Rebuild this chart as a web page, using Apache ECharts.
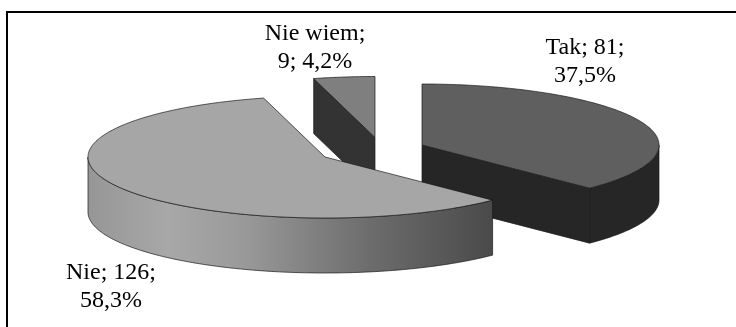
<!DOCTYPE html>
<html>
<head>
<meta charset="utf-8">
<style>html,body{margin:0;padding:0;background:#fff}#chart{width:736px;height:327px}</style>
<script src="https://cdn.jsdelivr.net/npm/echarts@6/dist/echarts.min.js"></script>
</head>
<body>
<div id="chart"></div>
<script>
// Survey answers, in clockwise order starting from twelve o'clock
const categories = ['Tak', 'Nie', 'Nie wiem'];
const answerCounts = [81, 126, 9];
const percentLabels = ['37,5%', '58,3%', '4,2%'];
// How many label parts stay on the first line of each label
const firstLineParts = [2, 2, 1];

// Pie projection
const RX = 237, RY = 61, DEPTH = 55;
// Centre of each exploded slice
const centres = [[422, 145], [325, 157], [375, 137.5]];
const labelAnchors = [[585, 62], [111, 287], [315, 48]];
const topColors = ['#5f5f5f', '#a6a6a6', '#7f7f7f'];
const wallColors = ['#262626', null, '#333333'];
const edge = { stroke: '#1a1a1a', lineWidth: 0.7 };
const FONT = '"Liberation Serif", "Times New Roman", serif';
// Slices further back are painted first
const paintOrder = [2, 0, 1];

const total = answerCounts.reduce((a, b) => a + b, 0);
const angles = [];
answerCounts.reduce((acc, v, i) => {
  angles[i] = [acc, acc + v / total * Math.PI * 2];
  return angles[i][1];
}, 0);

function rim(c, a, dy) {
  return [c[0] + RX * Math.sin(a), c[1] - RY * Math.cos(a) + (dy || 0)];
}
function arc(c, a0, a1, dy) {
  const n = Math.max(2, Math.ceil((a1 - a0) * 60));
  const pts = [];
  for (let k = 0; k <= n; k++) pts.push(rim(c, a0 + (a1 - a0) * k / n, dy));
  return pts;
}

function renderSlice(params, api) {
  const i = api.value(0);
  const c = centres[i];
  const [a0, a1] = angles[i];
  const children = [];
  const poly = (points, fill) => children.push({
    type: 'polygon',
    shape: { points },
    style: Object.assign({ fill, lineJoin: 'round' }, edge)
  });

  // Radial cut faces turned toward the viewer
  if (Math.cos(a1) < 0 && a1 < Math.PI) {
    const e = rim(c, a1);
    poly([c, e, [e[0], e[1] + DEPTH], [c[0], c[1] + DEPTH]], wallColors[i]);
  }
  if (Math.sin(a0) < 0) {
    const s = rim(c, a0);
    poly([c, s, [s[0], s[1] + DEPTH], [c[0], c[1] + DEPTH]], wallColors[i]);
  }

  // Curved outer wall, visible on the front half of the ellipse only
  const f0 = Math.max(a0, Math.PI / 2), f1 = Math.min(a1, Math.PI * 1.5);
  if (f1 > f0) {
    const wall = arc(c, f0, f1).concat(arc(c, f0, f1, DEPTH).reverse());
    const fill = wallColors[i] || {
      type: 'linear', x: 1, y: 0, x2: 0, y2: 0,
      colorStops: [
        { offset: 0, color: '#4a4a4a' },
        { offset: 0.30, color: '#6c6c6c' },
        { offset: 0.62, color: '#9a9a9a' },
        { offset: 0.80, color: '#a8a8a8' },
        { offset: 1, color: '#969696' }
      ]
    };
    poly(wall, fill);
  }

  // Top face
  poly([c].concat(arc(c, a0, a1)), topColors[i]);

  return { type: 'group', children };
}

function labelText(i) {
  const parts = [categories[i], answerCounts[i], percentLabels[i]];
  const head = parts.slice(0, firstLineParts[i]).join('; ') + ';';
  return head + '\n' + parts.slice(firstLineParts[i]).join('; ');
}

const chart = echarts.init(document.getElementById('chart'), null, { renderer: 'canvas' });
chart.setOption({
  animation: false,
  backgroundColor: '#ffffff',
  graphic: [
    { type: 'line', shape: { x1: 6, y1: 12, x2: 736, y2: 12 }, style: { stroke: '#000', lineWidth: 2 } },
    { type: 'line', shape: { x1: 7, y1: 11, x2: 7, y2: 327 }, style: { stroke: '#000', lineWidth: 2 } }
  ].concat(categories.map((_, i) => ({
    type: 'text',
    x: labelAnchors[i][0],
    y: labelAnchors[i][1],
    z: 10,
    style: {
      text: labelText(i),
      font: '24px ' + FONT,
      fill: '#000',
      align: 'center',
      verticalAlign: 'middle',
      lineHeight: 28
    }
  }))),
  series: [{
    type: 'custom',
    coordinateSystem: 'none',
    renderItem: renderSlice,
    data: paintOrder.map(i => [i, answerCounts[i]]),
    silent: true
  }]
});
</script>
</body>
</html>
